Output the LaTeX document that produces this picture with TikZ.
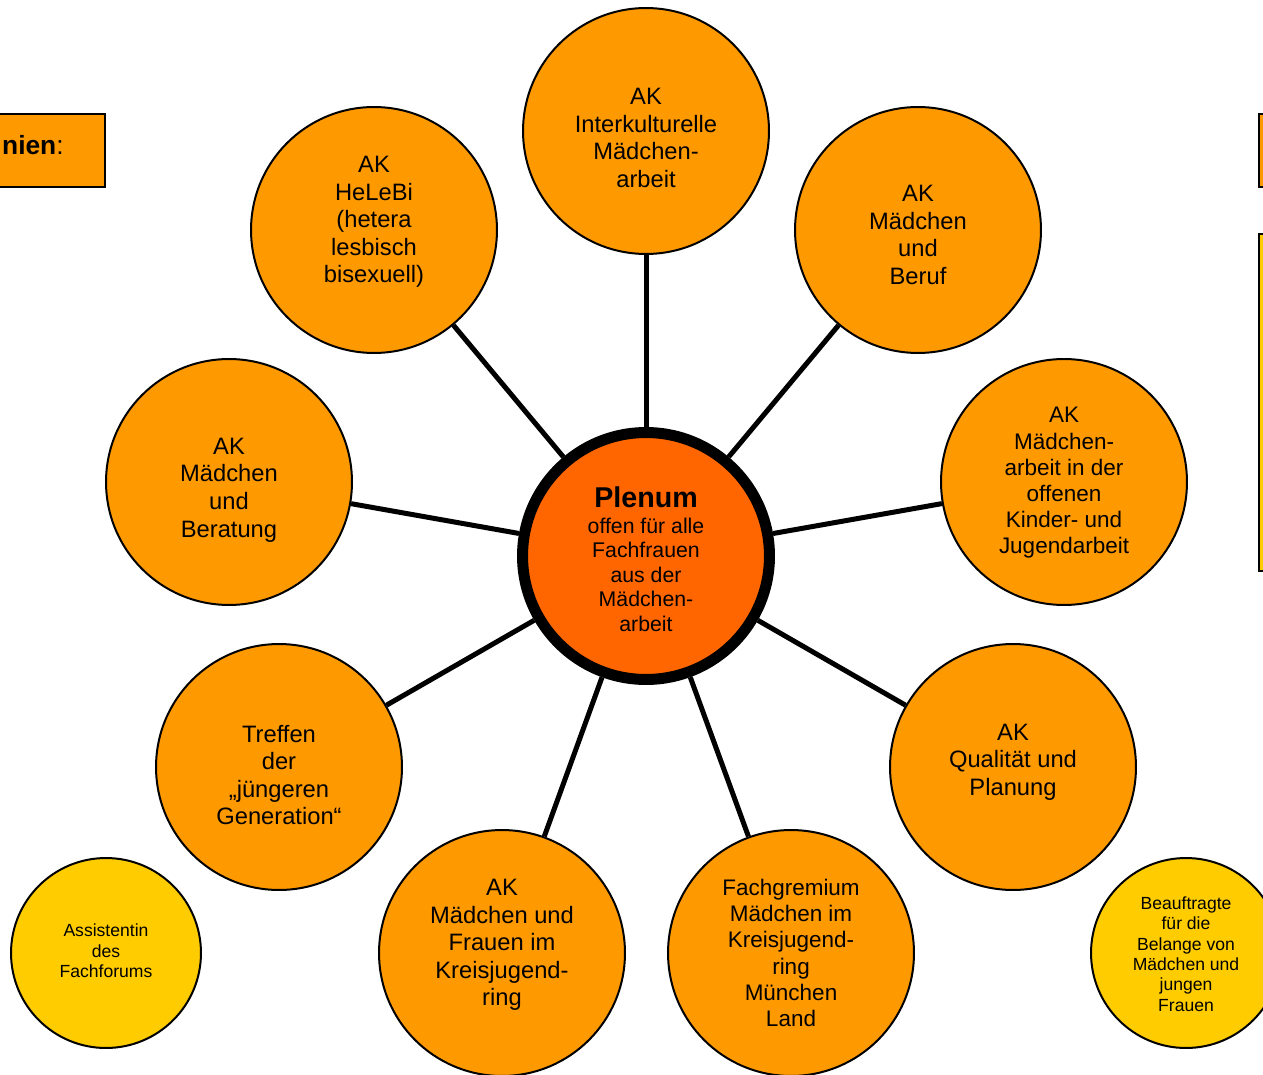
\documentclass[tikz,border=0pt]{standalone}
\usepackage{fontspec}
\setmainfont{Liberation Sans}
\definecolor{akorange}{HTML}{FF9900}
\definecolor{plenumorange}{HTML}{FF6600}
\definecolor{gelb}{HTML}{FFCC00}

\begin{document}
\begin{tikzpicture}[x=0.02cm, y=-0.02cm,
    ak/.style={circle, draw, fill=akorange, line width=0.04cm, minimum size=4.92cm, inner sep=0pt},
    plenum/.style={circle, draw, fill=plenumorange, line width=0.22cm, minimum size=4.94cm, inner sep=0pt},
    gelbkreis/.style={circle, draw, fill=gelb, line width=0.04cm, minimum size=3.8cm, inner sep=0pt},
    kasten/.style={draw, line width=0.04cm, inner sep=0pt},
    aktext/.style={align=center, inner sep=0pt, font=\fontsize{13.5}{15.7}\selectfont},
    akklein/.style={align=center, inner sep=0pt, font=\fontsize{12.8}{14.9}\selectfont},
    gelbtext/.style={align=center, inner sep=0pt, font=\fontsize{10}{11.6}\selectfont},
    spoke/.style={line width=0.1cm}
  ]
    \useasboundingbox (0,0) rectangle (1263,1074);
    \clip (0,0) rectangle (1263,1074);

    \node[kasten, fill=akorange, minimum width=2.4cm, minimum height=1.46cm, anchor=north east] (gremien) at (106,113) {};
    \node[anchor=base east, inner sep=0pt, font=\fontsize{15}{18}\selectfont] (gremien-text) at (64,155) {\textbf{nien}:};
    \node[kasten, fill=akorange, minimum width=1.4cm, minimum height=1.46cm, anchor=north west] (rechts) at (1258,113) {};
    \node[kasten, fill=gelb, minimum width=1.4cm, minimum height=6.74cm, anchor=north west] (rechts-gelb) at (1258,233) {};

    \node[plenum] (plenum) at (646,556) {};
    \node[ak] (interkult) at (646,131) {};
    \node[ak] (helebi) at (374,230) {};
    \node[ak] (beruf) at (918,230) {};
    \node[ak] (beratung) at (229,482) {};
    \node[ak] (offen) at (1064,482) {};
    \node[ak] (treffen) at (279,767) {};
    \node[ak] (qualitaet) at (1013,767) {};
    \node[ak] (kjr) at (502,953) {};
    \node[ak] (fachgremium) at (791,953) {};
    \node[gelbkreis] (assistentin) at (106,953) {};
    \node[gelbkreis] (beauftragte) at (1186,953) {};

    \draw[spoke] (plenum) -- (interkult);
    \draw[spoke] (plenum) -- (helebi);
    \draw[spoke] (plenum) -- (beruf);
    \draw[spoke] (plenum) -- (beratung);
    \draw[spoke] (plenum) -- (offen);
    \draw[spoke] (plenum) -- (treffen);
    \draw[spoke] (plenum) -- (qualitaet);
    \draw[spoke] (plenum) -- (kjr);
    \draw[spoke] (plenum) -- (fachgremium);

    \node[align=center, inner sep=0pt, font=\fontsize{12.1}{13.9}\selectfont] (plenum-text) at (646,559)
      {{\fontsize{16.3}{19}\selectfont\textbf{Plenum}}\\[1pt]
       offen für alle\\Fachfrauen\\aus der\\Mädchen-\\arbeit};
    \node[aktext] (interkult-text) at (646,138) {AK\\Interkulturelle\\Mädchen-\\arbeit};
    \node[aktext] (helebi-text) at (374,222) {AK\\HeLeBi\\(hetera\\lesbisch\\bisexuell)};
    \node[aktext] (beruf-text) at (918,235) {AK\\Mädchen\\und\\Beruf};
    \node[aktext] (beratung-text) at (229,490) {AK\\Mädchen\\und\\Beratung};
    \node[akklein] (offen-text) at (1064,483) {AK\\Mädchen-\\arbeit in der\\offenen\\Kinder- und\\Jugendarbeit};
    \node[aktext] (treffen-text) at (279,775) {Treffen\\der\\„jüngeren\\Generation“};
    \node[aktext] (qualitaet-text) at (1013,762) {AK\\Qualität und\\Planung};
    \node[aktext] (kjr-text) at (502,945) {AK\\Mädchen und\\Frauen im\\Kreisjugend-\\ring};
    \node[akklein] (fachgremium-text) at (791,953) {Fachgremium\\Mädchen im\\Kreisjugend-\\ring\\München\\Land};
    \node[gelbtext] (assistentin-text) at (106,951) {Assistentin\\des\\Fachforums};
    \node[gelbtext] (beauftragte-text) at (1186,954) {Beauftragte\\für die\\Belange von\\Mädchen und\\jungen\\Frauen};
\end{tikzpicture}
\end{document}
